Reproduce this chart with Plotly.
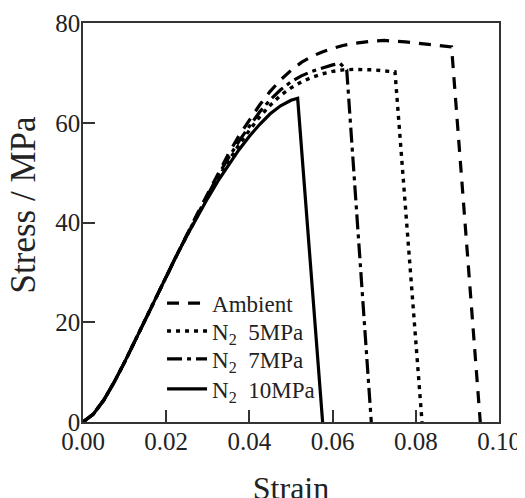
import plotly.graph_objects as go

# ---- data ----
ambient_strain = [0, 0.0025, 0.005, 0.0075, 0.010, 0.0125, 0.015, 0.0175, 0.020, 0.0225, 0.025,
                  0.0275, 0.030, 0.0325, 0.035, 0.0375, 0.040, 0.0425, 0.045, 0.0475, 0.050,
                  0.0525, 0.055, 0.0575, 0.060, 0.0625, 0.065, 0.0675, 0.070, 0.0725, 0.075,
                  0.0775, 0.080, 0.0825, 0.085, 0.0886, 0.0955]
ambient_stress = [0, 1.6, 4.4, 8.0, 12.0, 16.3, 20.6, 25.0, 29.3, 33.5, 37.6,
                  41.8, 45.8, 50.0, 53.8, 57.4, 60.6, 63.6, 66.3, 68.6, 70.5,
                  72.1, 73.3, 74.2, 74.9, 75.5, 75.9, 76.2, 76.4, 76.5, 76.4,
                  76.2, 76.0, 75.8, 75.5, 75.2, 0]

n5_strain = [0, 0.0025, 0.005, 0.0075, 0.010, 0.0125, 0.015, 0.0175, 0.020, 0.0225, 0.025,
             0.0275, 0.030, 0.0325, 0.035, 0.0375, 0.040, 0.0425, 0.045, 0.0475, 0.050,
             0.0525, 0.055, 0.0575, 0.060, 0.0625, 0.065, 0.0675, 0.070, 0.0725, 0.075, 0.0815]
n5_stress = [0, 1.6, 4.4, 8.0, 12.0, 16.3, 20.6, 25.0, 29.3, 33.4, 37.4,
             41.4, 45.3, 49.0, 52.4, 55.6, 58.5, 61.2, 63.5, 65.5, 67.0,
             68.2, 69.1, 69.8, 70.3, 70.6, 70.7, 70.7, 70.6, 70.4, 70.2, 0]

n7_strain = [0, 0.0025, 0.005, 0.0075, 0.010, 0.0125, 0.015, 0.0175, 0.020, 0.0225, 0.025,
             0.0275, 0.030, 0.0325, 0.035, 0.0375, 0.040, 0.0425, 0.045, 0.0475, 0.050,
             0.0525, 0.055, 0.0575, 0.060, 0.0618, 0.0634, 0.0693]
n7_stress = [0, 1.6, 4.4, 8.0, 12.0, 16.3, 20.6, 25.0, 29.3, 33.4, 37.5,
             41.5, 45.5, 49.5, 53.0, 56.3, 59.3, 62.2, 64.6, 66.6, 68.2,
             69.4, 70.3, 71.0, 71.6, 71.9, 70.6, 0]

n10_strain = [0, 0.0025, 0.005, 0.0075, 0.010, 0.0125, 0.015, 0.0175, 0.020, 0.0225, 0.025,
              0.0275, 0.030, 0.0325, 0.035, 0.0375, 0.040, 0.0425, 0.045, 0.0475, 0.050,
              0.0516, 0.0576]
n10_stress = [0, 1.6, 4.4, 8.0, 12.0, 16.3, 20.6, 25.0, 29.3, 33.4, 37.4,
              41.2, 44.9, 48.4, 51.6, 54.6, 57.3, 59.7, 61.8, 63.4, 64.5,
              64.9, 0]

series_names = ["Ambient", "N<sub>2</sub>&nbsp;&nbsp;5MPa", "N<sub>2</sub>&nbsp;&nbsp;7MPa",
                "N<sub>2</sub>&nbsp;&nbsp;10MPa"]

x_tickvals = [0.00, 0.02, 0.04, 0.06, 0.08, 0.10]
x_ticklabels = ["0.00", "0.02", "0.04", "0.06", "0.08", "0.10"]
y_tickvals = [0, 20, 40, 60, 80]
y_ticklabels = ["0", "20", "40", "60", "80"]

# ---- figure ----
FONT = "Liberation Serif, Times New Roman, serif"
fig = go.Figure()
styles = [
    dict(dash="12px,9px", width=3.2),
    dict(dash="4px,5px", width=3.4),
    dict(dash="15px,5px,4px,5px", width=3.2),
    dict(dash="solid", width=3.2),
]
legend_ids = ["legend", "legend2", "legend3", "legend4"]
legend_rows = [0.298, 0.228, 0.158, 0.083]
data = [(ambient_strain, ambient_stress), (n5_strain, n5_stress),
        (n7_strain, n7_stress), (n10_strain, n10_stress)]
for (xs, ys), name, st, lg in zip(data, series_names, styles, legend_ids):
    fig.add_trace(go.Scatter(x=xs, y=ys, mode="lines", name=name, legend=lg,
                             line=dict(color="black", width=st["width"], dash=st["dash"])))

axis_common = dict(
    showline=True, linecolor="#333", linewidth=1.5, mirror=True,
    ticks="inside", ticklen=12, tickwidth=1.5, tickcolor="#333",
    showgrid=False, zeroline=False, ticklabelstandoff=-4,
    tickfont=dict(family=FONT, size=25, color="#222"),
)
fig.update_xaxes(range=[0, 0.10], tickvals=x_tickvals, ticktext=x_ticklabels,
                 title=dict(text="Strain", font=dict(family=FONT, size=32, color="#222"), standoff=34),
                 **axis_common)
fig.update_yaxes(range=[0, 80], tickvals=y_tickvals, ticktext=y_ticklabels, **axis_common)

# y-axis title (sits slightly above the plot centre in the reference)
fig.add_annotation(text="Stress / MPa", textangle=-90, xref="paper", yref="paper",
                   x=-0.143, y=0.544, xanchor="center", yanchor="middle", showarrow=False,
                   font=dict(family=FONT, size=35, color="#222"))

legend_style = dict(xanchor="left", yanchor="middle", itemwidth=40,
                    bgcolor="rgba(0,0,0,0)", font=dict(family=FONT, size=23, color="#222"))
layout_legends = {lg: dict(x=0.19, y=yy, **legend_style) for lg, yy in zip(legend_ids, legend_rows)}

# page body has an 8px margin: the figure is offset by 8px right and down
fig.update_layout(
    width=525, height=498,
    margin=dict(l=75, r=34, t=15, b=84, autoexpand=False),
    paper_bgcolor="white", plot_bgcolor="white",
    showlegend=True,
    **layout_legends,
)
fig.write_html("out.html")
